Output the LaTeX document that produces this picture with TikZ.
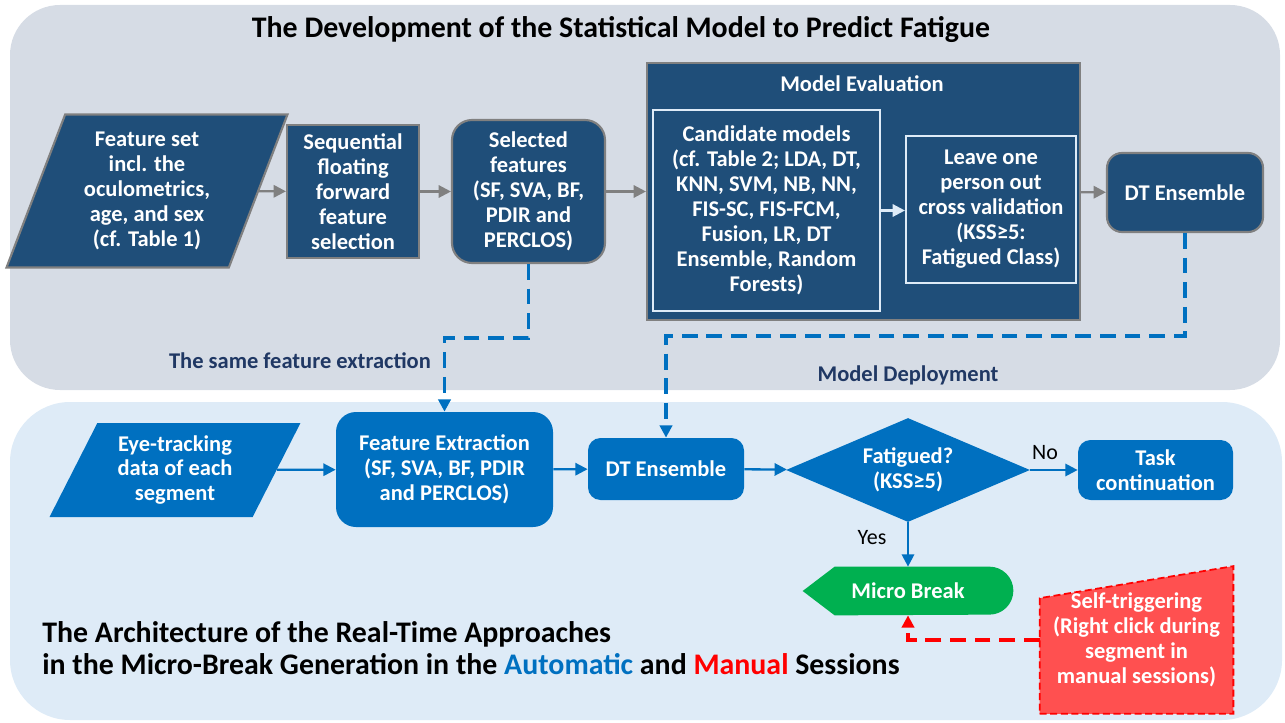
\documentclass[tikz,border=0pt]{standalone}
\usepackage{fontspec}
\setmainfont{Carlito}
\usepackage{xcolor}
\usepackage{tikz}
\usetikzlibrary{shapes.geometric, arrows.meta, positioning, backgrounds, calc}
\definecolor{navyfill}{RGB}{31, 78, 121}
\definecolor{edgegray}{RGB}{128, 128, 128}
\definecolor{panelgray}{RGB}{214, 220, 229}
\definecolor{panelblue}{RGB}{222, 235, 247}
\definecolor{flowblue}{RGB}{0, 112, 192}
\definecolor{labelnavy}{RGB}{32, 56, 100}
\definecolor{breakgreen}{RGB}{0, 176, 80}
\definecolor{triggerred}{RGB}{255, 80, 80}
\definecolor{dashred}{RGB}{255, 0, 0}

\newcommand{\boxfont}{\fontsize{12.8}{14.2}\selectfont\bfseries}

\begin{document}
\begin{tikzpicture}[x=0.2mm, y=-0.2mm, >={Triangle[length=7pt, width=7pt]}]
    \tikzstyle{navybox} = [rectangle, fill=navyfill, draw=edgegray, line width=1.2pt, text=white, font=\boxfont, align=center, inner sep=0pt]
    \tikzstyle{innerbox} = [rectangle, fill=navyfill, draw=panelblue, line width=1.2pt, text=white, font=\boxfont, align=center, inner sep=0pt]
    \tikzstyle{blueshape} = [fill=flowblue, text=white, font=\boxfont, align=center, inner sep=0pt]
    \tikzstyle{grayflow} = [draw=edgegray, line width=1.3pt, ->]
    \tikzstyle{blueflow} = [draw=flowblue, line width=1.3pt, ->]
    \tikzstyle{bluedash} = [draw=flowblue, line width=2pt, dash pattern=on 9pt off 5pt, ->]
    \tikzstyle{reddash} = [draw=dashred, line width=2pt, dash pattern=on 9pt off 5pt, ->]
    \tikzstyle{plainlabel} = [font=\fontsize{12.5}{14}\selectfont]
    \tikzstyle{navylabel} = [text=labelnavy, font=\fontsize{12.8}{14}\selectfont\bfseries]

    \useasboundingbox (0,0) rectangle (1285,723);

    % upper half: building the model
    \node (devtitle) at (621,30) [font=\fontsize{17}{20}\selectfont\bfseries] {The Development of the Statistical Model to Predict Fatigue};
    \node (featset) at (147,191) [navybox, trapezium, trapezium left angle=69, trapezium right angle=111, minimum width=5.18cm, minimum height=3.06cm] {Feature set\\incl. the\\oculometrics,\\age, and sex\\(cf. Table 1)};
    \node (seqsel) at (353,191.5) [navybox, minimum width=2.64cm, minimum height=2.66cm] {Sequential\\floating\\forward\\feature\\selection};
    \node (selfeat) at (528.5,191.5) [navybox, rounded corners=0.4cm, minimum width=3.06cm, minimum height=2.86cm] {Selected\\features\\(SF, SVA, BF,\\PDIR and\\PERCLOS)};
    \node (modeval) at (863.5,191.5) [navybox, minimum width=8.66cm, minimum height=5.14cm] {};
    \node (evaltitle) at (862,84) [text=white, font=\boxfont] {Model Evaluation};
    \node (cand) at (766.5,210.5) [innerbox, minimum width=4.54cm, minimum height=4.02cm] {Candidate models\\(cf. Table 2; LDA, DT,\\KNN, SVM, NB, NN,\\FIS-SC, FIS-FCM,\\Fusion, LR, DT\\Ensemble, Random\\Forests)};
    \node (loo) at (991,209.5) [innerbox, minimum width=3.4cm, minimum height=2.94cm] {Leave one\\person out\\cross validation\\(KSS≥5:\\Fatigued Class)};
    \node (dttop) at (1185,192.5) [navybox, rounded corners=0.3cm, minimum width=3.12cm, minimum height=1.58cm] {DT Ensemble};

    \draw [grayflow] (featset) -- (seqsel);
    \draw [grayflow] (seqsel) -- (selfeat);
    \draw [grayflow] (selfeat) -- (modeval);
    \draw [draw=panelblue, line width=1.3pt, ->] (cand.east) -- (cand.east -| loo.west);
    \draw [grayflow] (modeval) -- (dttop);

    \node (sameext) at (300,361) [navylabel] {The same feature extraction};
    \node (deploy) at (908,375) [navylabel] {Model Deployment};

    % lower half: real-time micro-break generation
    \node (eyedata) at (175,470) [blueshape, trapezium, trapezium left angle=63, trapezium right angle=117, minimum width=5cm, minimum height=1.88cm] {Eye-tracking\\data of each\\segment};
    \node (featext) at (444.5,469.5) [blueshape, rectangle, rounded corners=0.4cm, minimum width=4.34cm, minimum height=2.3cm] {Feature Extraction\\(SF, SVA, BF, PDIR\\and PERCLOS)};
    \node (dtbot) at (666,469) [blueshape, rectangle, rounded corners=0.25cm, minimum width=3.12cm, minimum height=1.24cm] {DT Ensemble};
    \node (fatigued) at (908,470) [blueshape, diamond, aspect=2.35, minimum width=4.88cm, minimum height=2.08cm] {Fatigued?\\(KSS≥5)};
    \node (taskcont) at (1155.5,470) [blueshape, rectangle, rounded corners=0.25cm, minimum width=3.1cm, minimum height=1.2cm] {Task\\continuation};
    \node (microbreak) at (908,591) [text=white, font=\boxfont, inner sep=0pt, minimum width=4.2cm, minimum height=0.96cm] {Micro Break};
    \node (selftrig) at (1136.5,640) [text=white, font=\boxfont, align=center, inner sep=0pt, minimum width=3.86cm, minimum height=2.94cm] {Self-triggering\\(Right click during\\segment in\\manual sessions)};

    \draw [blueflow] (eyedata) -- (featext);
    \draw [blueflow] (featext) -- (dtbot);
    \draw [blueflow] (dtbot) -- (fatigued);
    \draw [blueflow] (fatigued) -- (taskcont);
    \draw [blueflow] (fatigued) -- (microbreak);
    \node (nolabel) at (1045,453) [plainlabel] {No};
    \node (yeslabel) at (872,538) [plainlabel] {Yes};

    % dashed hand-over from development to deployment
    \draw [bluedash] (selfeat.south) -- ++(0,74) -| (featext.north);
    \draw [bluedash] (dttop.south) -- ++(0,103) -| (dtbot.north);
    \draw [reddash] (selftrig.west) -| (microbreak.south);

    \node (archtitle) at (42,648) [anchor=west, align=left, inner sep=0pt, font=\fontsize{17}{18.2}\selectfont\bfseries] {The Architecture of the Real-Time Approaches\\in the Micro-Break Generation in the \textcolor{flowblue}{Automatic} and \textcolor{dashred}{Manual} Sessions};

    \begin{scope}[on background layer]
        \fill [panelgray, rounded corners=1cm] (10,5) rectangle (1280,390);
        \fill [panelblue, rounded corners=1.2cm] (10,402) rectangle (1282,720);
        % pointed banner behind the micro break text
        \fill [breakgreen] (microbreak.west) -- ($(microbreak.north west)+(32,0)$) -- ($(microbreak.north east)+(-24,0)$) arc[start angle=90, end angle=-90, radius=0.48cm] -- ($(microbreak.south west)+(32,0)$) -- cycle;
        % manual input shape behind the self-triggering text
        \filldraw [fill=triggerred, draw=dashred, line width=1pt, dash pattern=on 4pt off 2pt] (selftrig.south west) -- (selftrig.south east) -- (selftrig.north east) -- ($(selftrig.north west)+(0,32)$) -- cycle;
    \end{scope}
\end{tikzpicture}
\end{document}
